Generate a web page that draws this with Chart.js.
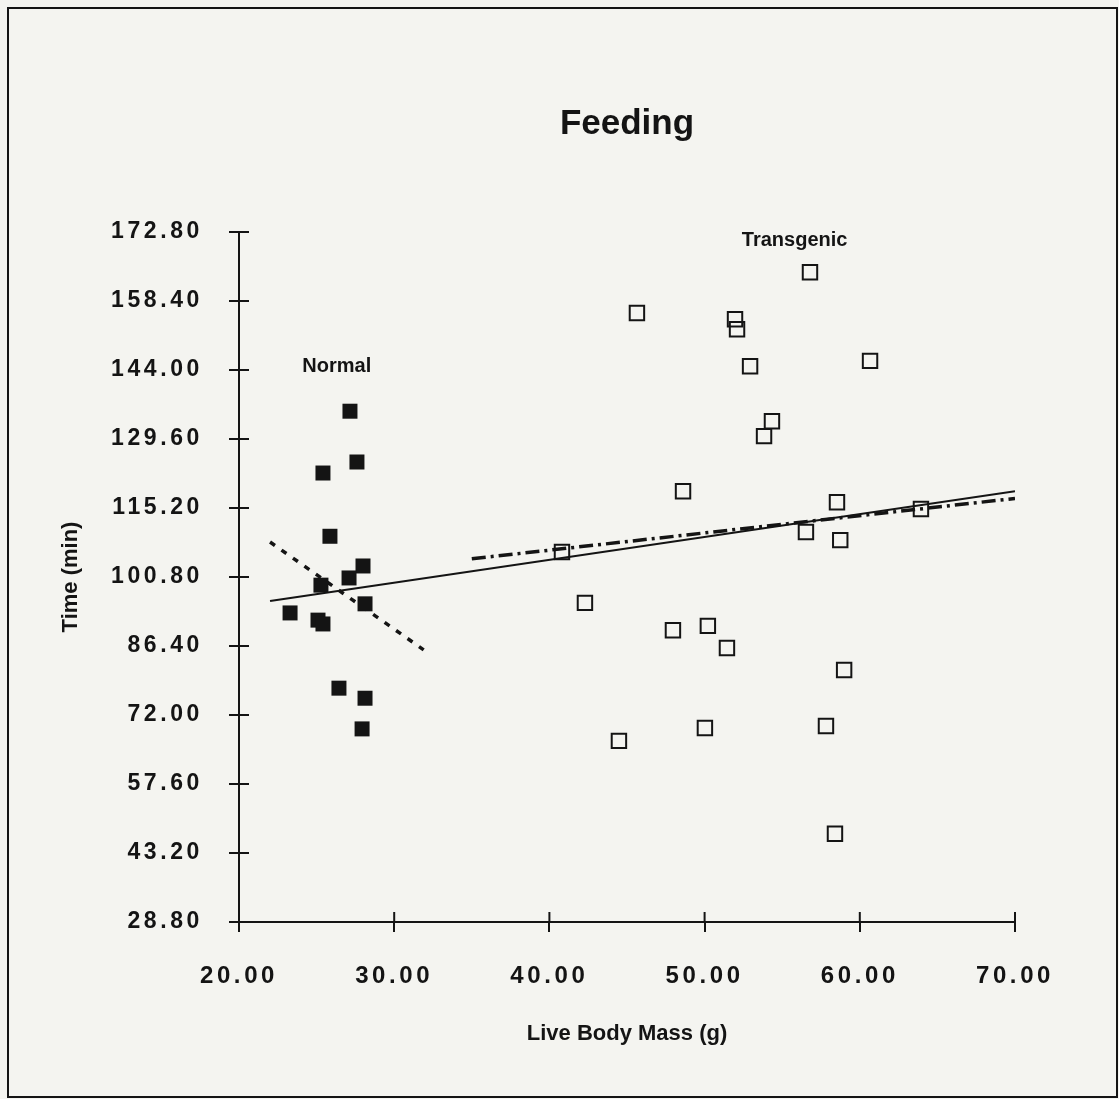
<!DOCTYPE html>
<html><head><meta charset="utf-8">
<script src="https://cdn.jsdelivr.net/npm/chart.js@4.4.1/dist/chart.umd.min.js"></script>
<style>html,body{margin:0;padding:0;background:#f4f4f0;overflow:hidden}#wrap{width:1119px;height:1099px;position:relative}</style>
</head><body><div id="wrap"><canvas id="c"></canvas></div>
<script>
// ---- data ----
const normalMass = [27.15, 27.60, 25.41, 25.86, 27.99, 27.09, 25.28, 28.12, 23.29, 25.09, 25.41, 26.44, 28.12, 27.93];
const normalTime = [135.4, 124.8, 122.5, 109.3, 103.1, 100.6, 99.1, 95.2, 93.3, 91.8, 91.0, 77.6, 75.5, 69.1];
const transMass = [56.79, 45.64, 51.96, 52.09, 60.66, 52.93, 54.34, 53.83, 48.61, 58.53, 63.94, 56.53, 58.74, 40.81, 42.29, 47.96, 50.21, 51.44, 58.99, 50.02, 44.48, 57.82, 58.40];
const transTime = [164.4, 155.9, 154.6, 152.5, 145.9, 144.8, 133.3, 130.2, 118.7, 116.4, 115.0, 110.2, 108.5, 106.0, 95.4, 89.7, 90.6, 86.0, 81.4, 69.3, 66.6, 69.7, 47.2];
const allFitMass = [22.0, 70.0];
const allFitTime = [95.8, 118.7];
const normalFitMass = [22.0, 31.9];
const normalFitTime = [108.1, 85.6];
const transFitMass = [35.0, 70.0];
const transFitTime = [104.6, 117.2];
const xTicks = [20, 30, 40, 50, 60, 70];
const yTicks = [28.8, 43.2, 57.6, 72.0, 86.4, 100.8, 115.2, 129.6, 144.0, 158.4, 172.8];
const groupLabels = ['Normal', 'Transgenic'];
const groupLabelMass = [26.3, 55.8];
const groupLabelTime = [144.8, 171.1];

const INK = '#141414';
const FONT = '"Liberation Sans", Arial, sans-serif';
const pts = (xs, ys) => xs.map((x, i) => ({x, y: ys[i]}));

// letter-spaced tick labels (typewriter-like look of the original)
const origDrawLabels = Chart.Scale.prototype.drawLabels;
Chart.Scale.prototype.drawLabels = function (area) {
  const ctx = this.ctx; const prev = ctx.letterSpacing;
  ctx.letterSpacing = '3.6px';
  origDrawLabels.call(this, area);
  ctx.letterSpacing = prev || '0px';
};

const framePlugin = {
  id: 'frame',
  beforeDraw(chart) {
    const ctx = chart.ctx;
    ctx.save();
    ctx.fillStyle = '#f4f4f0';
    ctx.fillRect(0, 0, chart.width, chart.height);
    ctx.strokeStyle = INK; ctx.lineWidth = 2;
    ctx.strokeRect(8, 8, chart.width - 10, chart.height - 10);
    ctx.restore();
  },
  afterDraw(chart) {
    const ctx = chart.ctx, xs = chart.scales.x, ys = chart.scales.y;
    ctx.save();
    ctx.strokeStyle = INK; ctx.lineWidth = 2;
    // inner halves of the crossing tick marks
    ctx.beginPath();
    ys.ticks.forEach((t, i) => { const p = ys.getPixelForTick(i); ctx.moveTo(xs.left, p); ctx.lineTo(xs.left + 10, p); });
    xs.ticks.forEach((t, i) => { const p = xs.getPixelForTick(i); ctx.moveTo(p, ys.bottom); ctx.lineTo(p, ys.bottom - 10); });
    ctx.stroke();
    // group labels
    ctx.fillStyle = INK;
    ctx.font = 'bold 20px ' + FONT;
    ctx.textAlign = 'center'; ctx.textBaseline = 'middle';
    groupLabels.forEach((t, i) => ctx.fillText(t, xs.getPixelForValue(groupLabelMass[i]), ys.getPixelForValue(groupLabelTime[i])));
    ctx.restore();
  }
};

new Chart(document.getElementById('c'), {
  type: 'scatter',
  data: {
    datasets: [
      { label: 'Normal', data: pts(normalMass, normalTime), pointStyle: 'rect', pointRadius: 10.6, pointHoverRadius: 10.6,
        backgroundColor: INK, borderColor: INK, borderWidth: 0 },
      { label: 'Transgenic', data: pts(transMass, transTime), pointStyle: 'rect', pointRadius: 10.2, pointHoverRadius: 10.2,
        backgroundColor: 'rgba(0,0,0,0)', borderColor: INK, borderWidth: 2 },
      { label: 'All fit', data: pts(allFitMass, allFitTime), showLine: true, pointRadius: 0, borderColor: INK, borderWidth: 2 },
      { label: 'Normal fit', data: pts(normalFitMass, normalFitTime), showLine: true, pointRadius: 0, borderColor: INK, borderWidth: 3.5, borderDash: [6, 8] },
      { label: 'Transgenic fit', data: pts(transFitMass, transFitTime), showLine: true, pointRadius: 0, borderColor: INK, borderWidth: 3.5, borderDash: [14, 5, 3, 5] }
    ]
  },
  options: {
    responsive: true, maintainAspectRatio: false, animation: false,
    layout: { padding: { left: 0, right: 104, top: 0, bottom: 0 } },
    plugins: {
      legend: { display: false }, tooltip: { enabled: false },
      title: { display: true, fullSize: false, text: 'Feeding', color: INK,
        font: { family: FONT, size: 35, weight: 'bold', lineHeight: 1.2 },
        padding: { top: 103, bottom: 87 } }
    },
    scales: {
      x: {
        type: 'linear', min: 20, max: 70,
        afterBuildTicks: s => { s.ticks = xTicks.map(v => ({value: v})); },
        afterFit: s => { s.height = 177; },
        grid: { drawOnChartArea: false, drawTicks: true, tickLength: 10, color: INK, lineWidth: 2 },
        border: { display: true, color: INK, width: 2 },
        ticks: { color: INK, padding: 30, maxRotation: 0, autoSkip: false, callback: v => Number(v).toFixed(2),
          font: { family: FONT, size: 24, weight: 'bold' } },
        title: { display: true, text: 'Live Body Mass (g)', color: INK, padding: { top: 0, bottom: 52 },
          font: { family: FONT, size: 22, weight: 'bold', lineHeight: 1.2 } }
      },
      y: {
        type: 'linear', min: 28.8, max: 172.8,
        afterBuildTicks: s => { s.ticks = yTicks.map(v => ({value: v})); },
        afterFit: s => { s.width = 239; },
        grid: { drawOnChartArea: false, drawTicks: true, tickLength: 10, color: INK, lineWidth: 2 },
        border: { display: true, color: INK, width: 2 },
        ticks: { color: INK, padding: 26, autoSkip: false, callback: v => Number(v).toFixed(2),
          font: { family: FONT, size: 23, weight: 'bold' } },
        title: { display: true, text: 'Time (min)', color: INK, padding: { top: 58, bottom: 0 },
          font: { family: FONT, size: 22, weight: 'bold', lineHeight: 1.2 } }
      }
    }
  },
  plugins: [framePlugin]
});
</script>
</body></html>
